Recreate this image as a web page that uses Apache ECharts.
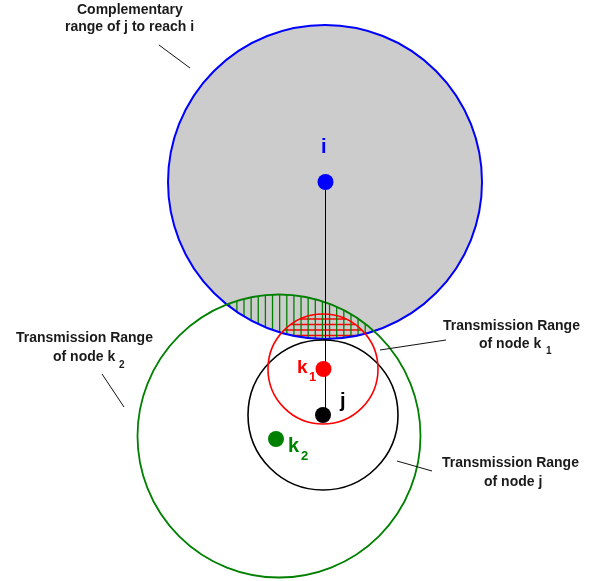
<!DOCTYPE html>
<html><head><meta charset="utf-8">
<script src="https://cdn.jsdelivr.net/npm/echarts@6/dist/echarts.min.js"></script>
<style>html,body{margin:0;padding:0;background:#fff}#c{width:595px;height:581px}</style>
</head><body><div id="c"></div>
<script>
// ---- Nodes (diagram coordinates) ----
const nodeNames = ['i', 'j', 'k1', 'k2'];
const nodeX = [325.5, 323, 323.5, 276];
const nodeY = [182, 415, 369, 439];

// ---- Ranges (circles): complementary range, k2, j, k1 ----
const rangeNames = ['Complementary range of j to reach i', 'Transmission Range of node k2', 'Transmission Range of node j', 'Transmission Range of node k1'];
const rangeCX = [325, 279, 323, 323];
const rangeCY = [182, 436, 415, 369];
const rangeR = [157, 141.5, 75, 55];

// ---- Annotation text lines ----
const annoText = ['Complementary', 'range of j to reach i', 'Transmission Range', 'of node k', '2', 'Transmission Range', 'of node k', '1', 'Transmission Range', 'of node j'];
const annoX = [77, 65, 16, 53, 119, 443, 479, 546, 442, 484];
const annoY = [10, 27.5, 338.5, 357, 365, 326, 344, 351, 463, 482];
const annoSize = [14, 14, 14, 14, 10, 14, 14, 10, 14, 14];

// ---- Leader lines ----
const leadX1 = [159, 102, 380, 397];
const leadY1 = [45, 374, 350, 461];
const leadX2 = [190, 124, 446, 432];
const leadY2 = [68, 407, 340, 471];

// ---- Node labels ----
const nodeLabelText = ['i', 'k', '1', 'j', 'k', '2'];
const nodeLabelX = [321, 297, 309, 340, 288, 301];
const nodeLabelY = [147, 368, 377, 401, 446, 456];
const nodeLabelSize = [20, 19, 13, 20, 20, 13];
const nodeLabelColor = ['#0000ff', '#ff0000', '#ff0000', '#000000', '#008000', '#008000'];

const FONT = '"Liberation Sans", Arial, Helvetica, sans-serif';
const rangeStroke = ['#0000ff', '#008000', '#000000', '#ff0000'];
const rangeWidth = [2, 1.8, 1.6, 1.6];
const nodeColor = ['#0000ff', '#000000', '#ff0000', '#008000'];

// ---- Hatching segments (intersections of circles) ----
function half(r, d) { return r * r - d * d > 0 ? Math.sqrt(r * r - d * d) : -1; }
const hatchSeg = []; // [x1,y1,x2,y2,colorIdx]
(function () {
  // green vertical lines in (k2 range ∩ complementary range)
  const step = 7.13, anchor = 244;
  let x = anchor - step * Math.ceil((anchor - (rangeCX[1] - rangeR[1])) / step);
  for (; x < rangeCX[0] + rangeR[0]; x += step) {
    const hb = half(rangeR[0], x - rangeCX[0]);
    const hg = half(rangeR[1], x - rangeCX[1]);
    if (hb < 0 || hg < 0) continue;
    const y1 = Math.max(rangeCY[0] - hb, rangeCY[1] - hg);
    const y2 = Math.min(rangeCY[0] + hb, rangeCY[1] + hg);
    if (y2 > y1) hatchSeg.push([x, y1, x, y2, 0]);
  }
  // red horizontal lines in (k1 range ∩ complementary range)
  const stepY = 5.5, anchorY = 319;
  let y = anchorY - stepY * Math.floor((anchorY - (rangeCY[3] - rangeR[3])) / stepY);
  for (; y < rangeCY[3] + rangeR[3]; y += stepY) {
    const hb = half(rangeR[0], y - rangeCY[0]);
    const hr = half(rangeR[3], y - rangeCY[3]);
    if (hb < 0 || hr < 0) continue;
    const x1 = Math.max(rangeCX[0] - hb, rangeCX[3] - hr);
    const x2 = Math.min(rangeCX[0] + hb, rangeCX[3] + hr);
    if (x2 > x1) hatchSeg.push([x1, y, x2, y, 1]);
  }
})();

const chart = echarts.init(document.getElementById('c'), null, { renderer: 'canvas' });

function circleSeries(indices, fill, strokeOn, z) {
  return {
    type: 'custom', coordinateSystem: 'cartesian2d', z: z, silent: true,
    data: indices.map(i => [rangeCX[i], rangeCY[i], rangeR[i], i]),
    renderItem: function (params, api) {
      const c = api.coord([api.value(0), api.value(1)]);
      const r = api.size([api.value(2), 0])[0];
      const idx = api.value(3);
      return {
        type: 'circle', shape: { cx: c[0], cy: c[1], r: r },
        style: {
          fill: fill ? '#cccccc' : 'none',
          stroke: strokeOn ? rangeStroke[idx] : 'none',
          lineWidth: rangeWidth[idx]
        }
      };
    }
  };
}

const option = {
  animation: false,
  backgroundColor: '#ffffff',
  grid: { left: 0, right: 0, top: 0, bottom: 0 },
  xAxis: { type: 'value', min: 0, max: 595, show: false },
  yAxis: { type: 'value', min: 0, max: 581, inverse: true, show: false },
  series: [
    circleSeries([0], true, false, 1),
    {
      type: 'custom', coordinateSystem: 'cartesian2d', z: 2, silent: true,
      data: hatchSeg,
      renderItem: function (params, api) {
        const p1 = api.coord([api.value(0), api.value(1)]);
        const p2 = api.coord([api.value(2), api.value(3)]);
        const red = api.value(4) === 1;
        return {
          type: 'line', z2: red ? 1 : 2,
          shape: { x1: p1[0], y1: p1[1], x2: p2[0], y2: p2[1] },
          style: { stroke: red ? '#ff0000' : '#008000', lineWidth: 1.3 }
        };
      }
    },
    circleSeries([0, 1, 2, 3], false, true, 3),
    {
      type: 'line', z: 4, silent: true, symbol: 'none',
      data: [[nodeX[0], nodeY[0]], [nodeX[0], nodeY[1]]],
      lineStyle: { color: '#000000', width: 1 }
    },
    {
      type: 'custom', coordinateSystem: 'cartesian2d', z: 4, silent: true,
      data: leadX1.map((v, i) => [v, leadY1[i], leadX2[i], leadY2[i]]),
      renderItem: function (params, api) {
        const p1 = api.coord([api.value(0), api.value(1)]);
        const p2 = api.coord([api.value(2), api.value(3)]);
        return {
          type: 'line', shape: { x1: p1[0], y1: p1[1], x2: p2[0], y2: p2[1] },
          style: { stroke: '#111111', lineWidth: 1 }
        };
      }
    },
    {
      type: 'scatter', z: 5, silent: true, symbolSize: 16,
      itemStyle: { opacity: 1 },
      data: nodeNames.map((n, i) => ({ name: n, value: [nodeX[i], nodeY[i]], itemStyle: { color: nodeColor[i], opacity: 1 } }))
    },
    {
      type: 'custom', coordinateSystem: 'cartesian2d', z: 6, silent: true,
      data: annoText.map((t, i) => [annoX[i], annoY[i], i]),
      renderItem: function (params, api) {
        const p = api.coord([api.value(0), api.value(1)]);
        const i = api.value(2);
        return {
          type: 'text', x: p[0], y: p[1],
          style: {
            text: annoText[i], fill: '#1a1a1a', fontSize: annoSize[i], fontWeight: 'bold',
            fontFamily: FONT, align: 'left', verticalAlign: 'middle'
          }
        };
      }
    },
    {
      type: 'custom', coordinateSystem: 'cartesian2d', z: 6, silent: true,
      data: nodeLabelText.map((t, i) => [nodeLabelX[i], nodeLabelY[i], i]),
      renderItem: function (params, api) {
        const p = api.coord([api.value(0), api.value(1)]);
        const i = api.value(2);
        return {
          type: 'text', x: p[0], y: p[1],
          style: {
            text: nodeLabelText[i], fill: nodeLabelColor[i], fontSize: nodeLabelSize[i], fontWeight: 'bold',
            fontFamily: FONT, align: 'left', verticalAlign: 'middle'
          }
        };
      }
    }
  ]
};
chart.setOption(option);
</script>
</body></html>
